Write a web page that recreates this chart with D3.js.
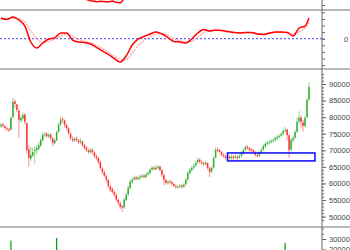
<!DOCTYPE html>
<html>
<head>
<meta charset="utf-8">
<script src="https://cdn.jsdelivr.net/npm/d3@7"></script>
<style>
  body { margin: 0; background: #fff; }
  #container { width: 350px; height: 250px; overflow: hidden; }
  text { font-family: "Liberation Sans", Arial, sans-serif; }
</style>
</head>
<body>
<div id="container"></div>
<script>
// price candles, in thousands
const opens = [77.2,77.9,77.3,76.6,76.3,76.2,80.0,84.8,83.8,82.0, 79.0,79.6,80.8,78.2,70.3,67.5,68.4,69.8,70.0,70.5,
  71.4,73.0,74.7,75.0,74.2,74.8,73.6,72.1,73.0,75.6, 77.8,79.4,79.0,77.6,76.6,75.0,73.5,72.9,73.6,73.0,
  72.4,72.7,71.5,70.8,70.0,69.4,70.2,69.3,68.2,67.6, 66.4,64.5,63.4,62.1,61.0,59.1,58.3,57.4,56.5,55.0,
  54.0,53.1,52.8,55.0,56.7,58.6,60.4,61.2,61.8,61.3, 61.6,62.1,62.4,61.9,62.7,63.1,64.2,64.8,64.3,64.6,
  65.1,64.0,62.5,61.0,60.1,60.6,60.4,59.8,59.2,58.9, 59.1,59.4,59.0,59.7,61.2,63.1,64.0,64.8,65.4,66.3,
  67.2,66.4,66.1,65.8,66.1,64.6,63.6,64.8,67.8,70.2, 70.0,69.4,68.5,68.2,67.8,68.1,67.6,68.1,67.8,68.1,
  67.8,68.4,69.1,70.2,71.1,70.6,70.2,70.0,69.4,68.5, 68.4,69.3,70.2,71.2,72.0,72.3,72.6,72.9,73.2,73.6,
  74.1,74.4,75.0,75.9,76.2,74.5,70.2,73.0,73.8,75.6, 78.7,79.9,78.4,77.3,80.0,85.3];
const highs = [78.3,78.2,77.6,77.0,76.8,80.3,85.8,85.4,84.1,82.4, 80.6,81.4,81.0,78.5,71.5,71.0,70.8,71.2,71.5,72.6,
  73.8,75.4,75.6,75.5,75.2,75.0,74.0,73.6,75.9,78.3, 80.1,80.0,79.3,78.0,77.0,75.4,74.2,74.0,74.1,73.5,
  73.6,73.0,71.9,71.3,70.5,70.7,70.6,69.7,68.8,68.0, 66.9,65.0,63.9,62.6,61.4,59.6,58.9,58.0,57.0,55.6,
  54.5,53.6,55.6,57.2,59.3,61.2,61.8,62.4,62.3,62.2, 62.6,62.9,62.8,63.2,63.8,64.6,65.3,65.2,65.5,65.6,
  65.4,64.3,62.9,61.4,61.0,61.1,60.8,60.2,59.7,59.5, 59.8,59.8,60.1,61.6,63.8,64.7,65.3,66.0,66.9,67.8,
  67.6,67.0,66.6,66.9,66.5,65.0,65.2,68.2,70.8,70.9, 70.4,69.8,69.0,68.7,68.6,68.5,68.7,68.6,68.9,68.5,
  68.8,69.8,70.6,71.6,71.5,71.0,70.7,70.4,69.8,69.0, 69.7,70.6,71.8,72.5,72.9,73.1,73.4,73.7,74.2,74.6,
  74.9,75.5,76.4,77.0,76.5,74.8,73.6,74.4,76.1,80.0, 81.8,80.6,79.2,80.4,85.9,90.4];
const lows = [76.8,76.9,76.2,75.9,75.5,76.0,79.6,82.8,81.5,73.7, 78.4,79.0,77.9,69.0,65.0,66.8,67.9,66.0,68.8,70.0,
  71.0,72.6,74.0,73.8,73.6,73.0,71.2,71.8,72.8,75.2, 77.4,78.3,77.0,76.0,74.6,73.1,72.4,72.5,72.6,71.9,
  72.0,71.0,70.2,69.6,68.9,69.0,68.8,67.7,67.0,65.8, 64.2,62.8,61.8,60.3,58.6,57.4,56.9,56.0,54.6,53.5,
  52.2,51.4,52.3,54.6,56.2,58.2,59.9,60.8,60.9,60.9, 61.2,61.6,61.4,61.6,62.3,62.8,63.8,63.9,64.0,64.2,
  63.6,61.9,59.4,59.7,59.6,59.9,59.3,58.8,58.5,58.4, 58.7,58.5,58.6,59.4,60.8,62.7,63.6,64.3,65.0,65.9,
  66.0,65.6,65.3,65.4,64.1,62.0,63.1,64.5,67.5,69.4, 69.0,68.1,67.8,67.2,67.3,67.2,67.2,67.1,67.4,67.1,
  67.4,68.0,68.7,69.8,70.2,69.6,69.6,69.0,68.1,67.9, 68.0,68.9,69.8,70.8,71.5,71.7,72.0,72.3,72.7,73.1,
  73.5,73.9,74.5,75.3,73.0,67.7,69.8,72.4,73.4,75.2, 78.0,76.8,75.6,76.9,79.6,84.8];
const closes = [77.7,77.4,76.7,76.4,76.1,79.8,84.6,84.0,82.2,79.2, 79.8,80.7,78.6,70.1,67.7,68.6,69.5,70.1,70.7,71.6,
  73.1,74.6,74.9,74.3,74.6,73.7,72.2,73.1,75.5,77.7, 79.2,79.2,77.7,76.7,75.2,73.7,73.1,73.4,73.1,72.5,
  72.8,71.6,70.7,70.1,69.5,70.1,69.5,68.3,67.7,66.5, 64.7,63.5,62.3,61.1,59.3,58.1,57.5,56.6,55.1,54.2,
  53.0,52.7,55.1,56.6,58.7,60.5,61.1,61.7,61.4,61.7, 62.0,62.3,62.0,62.6,63.2,64.1,64.7,64.4,64.7,65.0,
  64.1,62.6,61.1,60.2,60.5,60.5,59.9,59.3,59.0,59.0, 59.3,59.0,59.6,61.1,63.2,64.1,64.7,65.3,66.2,67.1,
  66.5,66.2,65.9,66.2,64.7,63.5,64.7,67.7,70.1,70.1, 69.5,68.6,68.3,67.7,68.0,67.7,68.0,67.7,68.0,67.7,
  68.3,69.2,70.1,71.0,70.7,70.1,70.1,69.5,68.6,68.3, 69.2,70.1,71.3,71.9,72.2,72.5,72.8,73.1,73.7,74.0,
  74.3,74.9,75.8,76.1,74.6,70.1,73.1,73.7,75.5,78.6, 79.8,78.6,77.4,79.8,85.2,89.1];
// volume, in thousands
const volumes = [12,9,10,8,11,28.5,17,14,12,18, 10,9,13,16,15,11,9,8,10,12, 11,10,9,8,9,11,12,9,31,13,
  10,9,8,10,11,12,9,8,7,9, 8,10,11,12,9,8,10,11,13,12, 14,12,11,13,15,12,11,14,16,15,
  18,17,13,12,11,10,9,8,9,10, 8,7,9,10,11,9,8,10,9,8, 10,12,11,9,8,9,10,8,7,9,
  10,11,12,14,13,11,10,9,10,11, 9,8,10,12,14,13,16,15,12,10, 9,8,9,10,8,9,8,10,9,11,
  12,13,14,12,10,9,11,10,12,9, 11,12,13,12,11,10,12,11,13,12, 14,13,15,26.5,16,18,14,13,15,17,
  16,15,14,17,18,17];

// oscillator, sampled every 3 sessions (last one = final session)
const oscLine = [3.14,2.91,3.29,2.83,1.92,-0.50,-1.41,-0.65,-0.05,0.11, 0.86,0.86,-0.20,-0.50,-0.58,-0.80,-1.33,-1.86,-2.39,-3.00,
  -3.53,-2.62,-0.95,-0.05,0.33,0.71,1.02,0.71,0.18,-0.42, -0.50,-0.65,-0.05,0.86,1.39,1.17,1.32,1.24,1.09,0.94,
  0.86,0.94,0.94,0.71,0.64,0.86,1.02,1.02,0.94,0.41, 1.62,1.92,3.14];
const oscSignal = [3.0,3.0,3.1,3.0,2.5,1.2,0.0,-0.6,-0.4,-0.1, 0.4,0.7,0.4,-0.1,-0.4,-0.6,-1.0,-1.5,-2.0,-2.6,
  -3.1,-3.2,-2.2,-1.1,-0.3,0.3,0.7,0.8,0.5,0.0, -0.3,-0.5,-0.4,0.2,0.9,1.2,1.25,1.25,1.15,1.0,
  0.9,0.9,0.9,0.8,0.7,0.75,0.9,0.95,0.95,0.7, 1.0,1.6,2.4];
const oscDays = d3.range(0, 154, 3).concat([155]);

// the upper indicator, only its low part shows
const upperDays = d3.range(42, 63);
const upperVals = [31.5,30.5,30.0,29.2,29.0,28.8,28.3,28.4,28.7,28.6, 28.4,28.0,28.3,28.6,29.0,28.2,27.7,27.4,27.0,29.0, 31.5];

// marked range
const boxDays = [114, 158];
const boxPrices = [66.8, 69.2];

const priceTicks = [50, 55, 60, 65, 70, 75, 80, 85, 90];
const volumeTicks = [20, 30];

const w = 350;
const h = 250;
const axisX = 322;

const svg = d3.select('#container').append('svg')
    .attr('width', w)
    .attr('height', h);

const xScale = d3.scaleLinear()
    .domain([0, 155])
    .range([1, 309]);

const yUpper = d3.scaleLinear().domain([30, 20]).range([0, 10]);
const yOsc = d3.scaleLinear().domain([-4, 4]).range([65.1, 12.3]);
const yPrice = d3.scaleLinear().domain([50, 90]).range([216.6, 84]);
const yVol = d3.scaleLinear().domain([20, 30]).range([249.5, 239]);

const panels = [
    { id: 'clipUpper', y0: 0, y1: 9.5 },
    { id: 'clipOsc', y0: 10.5, y1: 68 },
    { id: 'clipPrice', y0: 70, y1: 226 },
    { id: 'clipVol', y0: 228, y1: 250 }
];

const defs = svg.append('defs');
panels.forEach(p => {
    defs.append('clipPath').attr('id', p.id)
        .append('rect')
        .attr('x', 0).attr('y', p.y0)
        .attr('width', axisX).attr('height', p.y1 - p.y0);
});

// panel separators
svg.selectAll('line.sep')
    .data([10, 69, 227])
    .join('line')
    .attr('class', 'sep')
    .attr('x1', 0).attr('x2', w)
    .attr('y1', d => d).attr('y2', d => d)
    .attr('stroke', '#a0a0a0')
    .attr('stroke-width', 1.5);

// upper indicator
svg.append('path')
    .datum(upperVals)
    .attr('clip-path', 'url(#clipUpper)')
    .attr('fill', 'none')
    .attr('stroke', '#ff0000')
    .attr('stroke-width', 1.5)
    .attr('d', d3.line().x((d, i) => xScale(upperDays[i])).y(d => yUpper(d)));

// oscillator
const osc = svg.append('g').attr('clip-path', 'url(#clipOsc)');

osc.append('line')
    .attr('x1', 0).attr('x2', axisX)
    .attr('y1', yOsc(0)).attr('y2', yOsc(0))
    .attr('stroke', '#3d3dff')
    .attr('stroke-dasharray', '2,2');

osc.append('path')
    .datum(oscSignal)
    .attr('fill', 'none')
    .attr('stroke', '#ff9c9c')
    .attr('stroke-width', 1.2)
    .attr('stroke-dasharray', '2,1')
    .attr('d', d3.line().curve(d3.curveMonotoneX).x((d, i) => xScale(oscDays[i])).y(d => yOsc(d)));

osc.append('path')
    .datum(oscLine)
    .attr('fill', 'none')
    .attr('stroke', '#ff0000')
    .attr('stroke-width', 1.5)
    .attr('d', d3.line().curve(d3.curveMonotoneX).x((d, i) => xScale(oscDays[i])).y(d => yOsc(d)));

// candles
const candles = opens.map((o, i) => ({ i, o, h: highs[i], l: lows[i], c: closes[i], v: volumes[i] }));
const upColor = '#00a000';
const downColor = '#ff0000';

const price = svg.append('g').attr('clip-path', 'url(#clipPrice)');

const candle = price.selectAll('g.candle')
    .data(candles)
    .join('g')
    .attr('class', 'candle');

candle.append('line')
    .attr('x1', d => xScale(d.i)).attr('x2', d => xScale(d.i))
    .attr('y1', d => yPrice(d.h)).attr('y2', d => yPrice(d.l))
    .attr('stroke', d => d.c >= d.o ? upColor : downColor)
    .attr('stroke-opacity', 0.45)
    .attr('stroke-width', 1);

candle.append('rect')
    .attr('x', d => xScale(d.i) - 0.8)
    .attr('width', 1.6)
    .attr('y', d => yPrice(Math.max(d.o, d.c)))
    .attr('height', d => Math.max(1, Math.abs(yPrice(d.o) - yPrice(d.c))))
    .attr('fill', d => d.c >= d.o ? upColor : downColor)
    .attr('fill-opacity', 0.7);

price.append('rect')
    .attr('x', xScale(boxDays[0]))
    .attr('y', yPrice(boxPrices[1]))
    .attr('width', xScale(boxDays[1]) - xScale(boxDays[0]))
    .attr('height', yPrice(boxPrices[0]) - yPrice(boxPrices[1]))
    .attr('fill', 'none')
    .attr('stroke', '#0a0aff')
    .attr('stroke-width', 1.5);

// volume
svg.append('g')
    .attr('clip-path', 'url(#clipVol)')
    .selectAll('line')
    .data(candles)
    .join('line')
    .attr('x1', d => xScale(d.i)).attr('x2', d => xScale(d.i))
    .attr('y1', d => yVol(d.v)).attr('y2', 260)
    .attr('stroke', d => d.c >= d.o ? upColor : downColor)
    .attr('stroke-width', 1.2);

// right axes
svg.append('line')
    .attr('x1', axisX).attr('x2', axisX)
    .attr('y1', 0).attr('y2', h)
    .attr('stroke', '#666');

const styleAxis = g => {
    g.select('.domain').remove();
    g.selectAll('.tick line').attr('stroke', '#666');
    g.selectAll('.tick text').attr('fill', '#444').style('font-size', '7.5px');
};

svg.append('g')
    .attr('transform', `translate(${axisX},0)`)
    .call(d3.axisRight(yUpper).tickValues([25]).tickSize(3).tickFormat(''))
    .call(styleAxis);

svg.append('g')
    .attr('transform', `translate(${axisX},0)`)
    .call(d3.axisRight(yOsc).tickValues(d3.range(-4, 5)).tickSize(3).tickFormat(''))
    .call(styleAxis);

svg.append('g')
    .attr('transform', `translate(${axisX},0)`)
    .call(d3.axisRight(yOsc).tickValues([0]).tickSize(3).tickPadding(19).tickFormat(d3.format('d')))
    .call(styleAxis);

svg.append('g')
    .attr('transform', `translate(${axisX},0)`)
    .call(d3.axisRight(yPrice).tickValues(d3.range(49, 94, 1)).tickSize(2).tickFormat(''))
    .call(styleAxis);

svg.append('g')
    .attr('transform', `translate(${axisX},0)`)
    .call(d3.axisRight(yPrice).tickValues(priceTicks).tickSize(4).tickPadding(3).tickFormat(d => d * 1000))
    .call(styleAxis);

svg.append('g')
    .attr('transform', `translate(${axisX},0)`)
    .call(d3.axisRight(yVol).tickValues([35, 40]).tickSize(2).tickFormat(''))
    .call(styleAxis);

svg.append('g')
    .attr('transform', `translate(${axisX},0)`)
    .call(d3.axisRight(yVol).tickValues(volumeTicks).tickSize(4).tickPadding(3).tickFormat(d => d * 1000))
    .call(styleAxis);
</script>
</body>
</html>
